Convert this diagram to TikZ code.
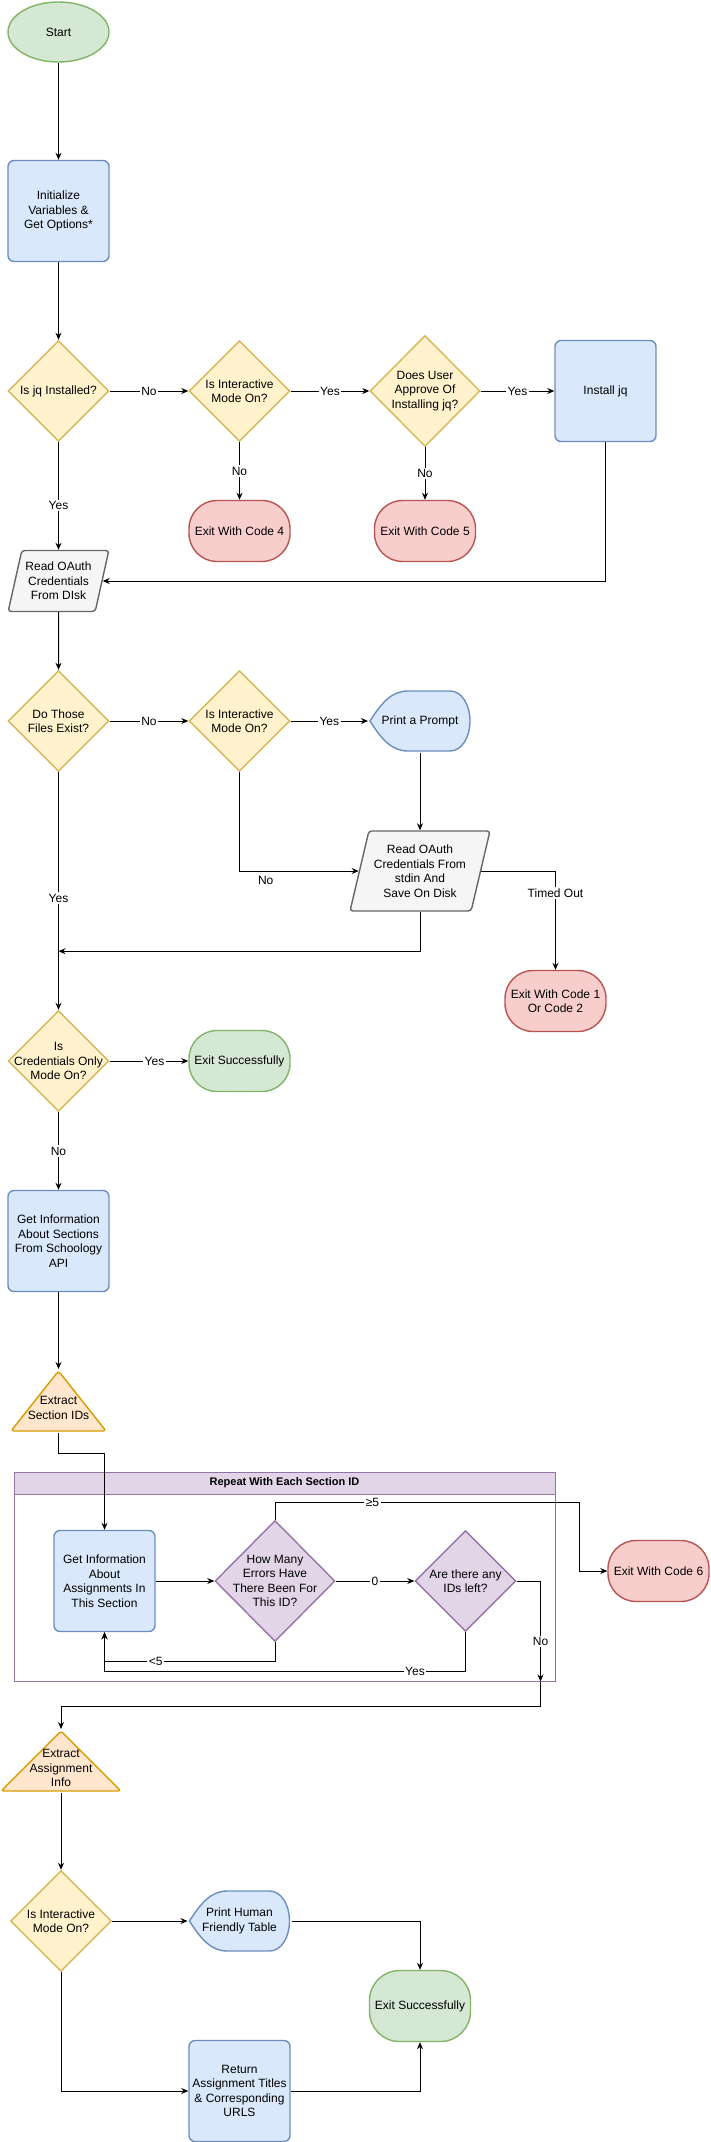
\documentclass[tikz,border=0pt]{standalone}
\usepackage{fontspec}
\setmainfont{Liberation Sans}
\usetikzlibrary{shapes.geometric,calc,positioning,arrows.meta}
\definecolor{grnfill}{HTML}{D5E8D4}\definecolor{grnline}{HTML}{82B366}
\definecolor{blufill}{HTML}{DAE8FC}\definecolor{bluline}{HTML}{6C8EBF}
\definecolor{yelfill}{HTML}{FFF2CC}\definecolor{yelline}{HTML}{D6B656}
\definecolor{redfill}{HTML}{F8CECC}\definecolor{redline}{HTML}{B85450}
\definecolor{gryfill}{HTML}{F5F5F5}\definecolor{gryline}{HTML}{666666}
\definecolor{prpfill}{HTML}{E1D5E7}\definecolor{prpline}{HTML}{9673A6}
\definecolor{orgfill}{HTML}{FFE6CC}\definecolor{orgline}{HTML}{D79B00}

\begin{document}
\begin{tikzpicture}[x=1pt,y=-1pt,>={Stealth[length=7pt,width=6pt]},line width=1pt,
    every node/.style={font=\fontsize{12}{14.5}\selectfont,align=center,inner sep=0pt},
    shp/.style={line width=1.4pt},
    proc/.style={shp,draw=bluline,fill=blufill,rounded corners=6pt,minimum width=101pt,minimum height=101pt},
    term/.style={shp,rounded corners=28pt,minimum width=101pt,minimum height=61pt},
    bad/.style={term,draw=redline,fill=redfill},
    good/.style={term,draw=grnline,fill=grnfill},
    dec/.style={shp,diamond,draw=yelline,fill=yelfill,minimum width=101pt,minimum height=101pt},
    ldec/.style={dec,draw=prpline,fill=prpfill},
    io/.style={shp,trapezium,trapezium left angle=72,trapezium right angle=108,trapezium stretches=true,
      draw=gryline,fill=gryfill,rounded corners=3pt,minimum height=61pt},
    disp/.style={minimum width=103pt,minimum height=63pt,path picture={
      \draw[shp,draw=bluline,fill=blufill,shift={(path picture bounding box.center)},x=1pt,y=1pt]
        (-50,0) .. controls (-38,19) and (-28,30) .. (-12,30) -- (30,30)
        .. controls (42,30) and (50,16) .. (50,0) .. controls (50,-16) and (42,-30) .. (30,-30)
        -- (-12,-30) .. controls (-28,-30) and (-38,-19) .. (-50,0) -- cycle;}},
    tri/.style={minimum width=#1pt+2pt,minimum height=63pt,path picture={
      \draw[shp,draw=orgline,fill=orgfill,rounded corners=3pt,shift={(path picture bounding box.center)},x=1pt,y=1pt]
        (-#1/2,-30) -- (0,30) -- (#1/2,-30) -- cycle;}},
    lab/.style={font=\fontsize{12}{14}\selectfont,fill=white,inner sep=1.5pt}
  ]
  \useasboundingbox (0,0) rectangle (710,2142);

  % setup and jq
  \node[shp,ellipse,draw=grnline,fill=grnfill,minimum width=101pt,minimum height=60pt] (start) at (58.5,32) {Start};
  \node[proc] (init) at (58.5,211) {Initialize\\Variables \&\\Get Options*};
  \node[dec,label={center:{Is jq Installed?}}] (jq) at (58.5,391) {};
  \node[dec,label={center:{Is Interactive\\Mode On?}}] (int1) at (239.5,391) {};
  \node[dec,minimum width=110pt,minimum height=111pt,label={center:{Does User\\Approve Of\\Installing jq?}}] (appr) at (425,391) {};
  \node[proc] (inst) at (605.5,391) {Install jq};
  \node[bad] (exit4) at (239.5,531) {Exit With Code 4};
  \node[bad] (exit5) at (425,531) {Exit With Code 5};
  \node[io,minimum width=101pt] (rdisk) at (58.5,581) {Read OAuth\\Credentials\\From DIsk};

  % credentials
  \node[dec,label={center:{Do Those\\Files Exist?}}] (files) at (58.5,721) {};
  \node[dec,label={center:{Is Interactive\\Mode On?}}] (int2) at (239.5,721) {};
  \node[disp,label={center:{Print a Prompt}}] (prompt) at (420,721) {};
  \node[io,minimum width=140pt,minimum height=80pt] (stdin) at (420,871) {Read OAuth\\Credentials From\\stdin And\\Save On Disk};
  \node[bad] (exit12) at (555.5,1001) {Exit With Code 1\\Or Code 2};
  \node[dec,label={center:{Is\\Credentials Only\\Mode On?}}] (cred) at (58.5,1061) {};
  \node[good] (ok1) at (239.5,1061) {Exit Successfully};
  \node[proc] (sect) at (58.5,1241) {Get Information\\About Sections\\From Schoology\\API};
  \node[tri=95,label={[yshift=-7pt]center:{Extract\\Section IDs}}] (secids) at (58.5,1401) {};

  % loop over section ids
  \node[draw=prpline,minimum width=541pt,minimum height=209pt] (loop) at (284.5,1576.5) {};
  \node[draw=prpline,fill=prpfill,minimum width=541pt,minimum height=22pt,
    font=\fontsize{11}{13}\selectfont\bfseries] (loophd) at (284.5,1483) {Repeat With Each Section ID};
  \node[proc] (info) at (104.5,1581) {Get Information\\About\\Assignments In\\This Section};
  \node[ldec,minimum width=120pt,minimum height=121pt,label={center:{How Many\\Errors Have\\There Been For\\This ID?}}] (errs) at (275,1581) {};
  \node[ldec,label={center:{Are there any\\IDs left?}}] (left) at (465.5,1581) {};
  \node[bad] (exit6) at (658.5,1571) {Exit With Code 6};
  \coordinate (loopout) at ($(loop.south east)+(-15,0)$);

  % output
  \node[tri=120,label={[yshift=-7pt]center:{Extract\\Assignment\\Info}}] (asgn) at (61,1761) {};
  \node[dec,label={center:{Is Interactive\\Mode On?}}] (int3) at (61,1921) {};
  \node[disp,label={center:{Print Human\\Friendly Table}}] (table) at (239.5,1921) {};
  \node[good,minimum height=71pt,rounded corners=30pt] (ok2) at (420,2006) {Exit Successfully};
  \node[proc] (ret) at (239.5,2091) {Return\\Assignment Titles\\\& Corresponding\\URLS};

  \draw[->] (start) -- (init);
  \draw[->] (init) -- (jq);
  \draw[->] (jq) -- node[lab]{No} (int1);
  \draw[->] (int1) -- node[lab]{Yes} (appr);
  \draw[->] (appr) -- node[lab]{Yes} (inst);
  \draw[->] (int1) -- node[lab]{No} (exit4);
  \draw[->] (appr) -- node[lab]{No} (exit5);
  \draw[->] (jq) -- node[lab,pos=0.59]{Yes} (rdisk);
  \draw[->] (inst) |- (rdisk);
  \draw[->] (rdisk) -- (files);
  \draw[->] (files) -- node[lab]{No} (int2);
  \draw[->] (int2) -- node[lab]{Yes} (prompt);
  \draw[->] (prompt) -- (stdin);
  \draw[->] (int2) |- node[lab,fill=none,pos=0.61,below=3pt]{No} (stdin);
  \draw[->] (stdin) -| node[lab,pos=0.61]{Timed Out} (exit12);
  \draw[->] (stdin) |- ($(files.south)+(0,179)$);
  \draw[->] (files) -- node[lab,pos=0.53]{Yes} (cred);
  \draw[->] (cred) -- node[lab,pos=0.57]{Yes} (ok1);
  \draw[->] (cred) -- node[lab]{No} (sect);
  \draw[->] (sect) -- (secids);
  \draw[->] (secids.south) -- ++(0,20) -| (info);
  \draw[->] (info) -- (errs);
  \draw[->] (errs) -- node[lab]{0} (left);
  \draw[->] (errs.north) |- node[lab,pos=0.66]{≥5} ($(exit6.west)+(-28,-69)$) |- (exit6);
  \draw[->] (errs.south) |- node[lab,pos=0.85]{<5} ($(info.south)+(0,29)$) -- (info.south);
  \draw[->] (left.south) |- node[lab,pos=0.57]{Yes} ($(info.south)+(0,39)$) -- (info.south);
  \draw[->] (left.east) -| node[lab,pos=0.8]{No} (loopout);
  \draw[->] (loopout) -- ++(0,25) -| (asgn);
  \draw[->] (asgn) -- (int3);
  \draw[->] (int3) -- (table);
  \draw[->] (int3) |- (ret);
  \draw[->] (table) -| (ok2);
  \draw[->] (ret) -| (ok2);
\end{tikzpicture}
\end{document}
